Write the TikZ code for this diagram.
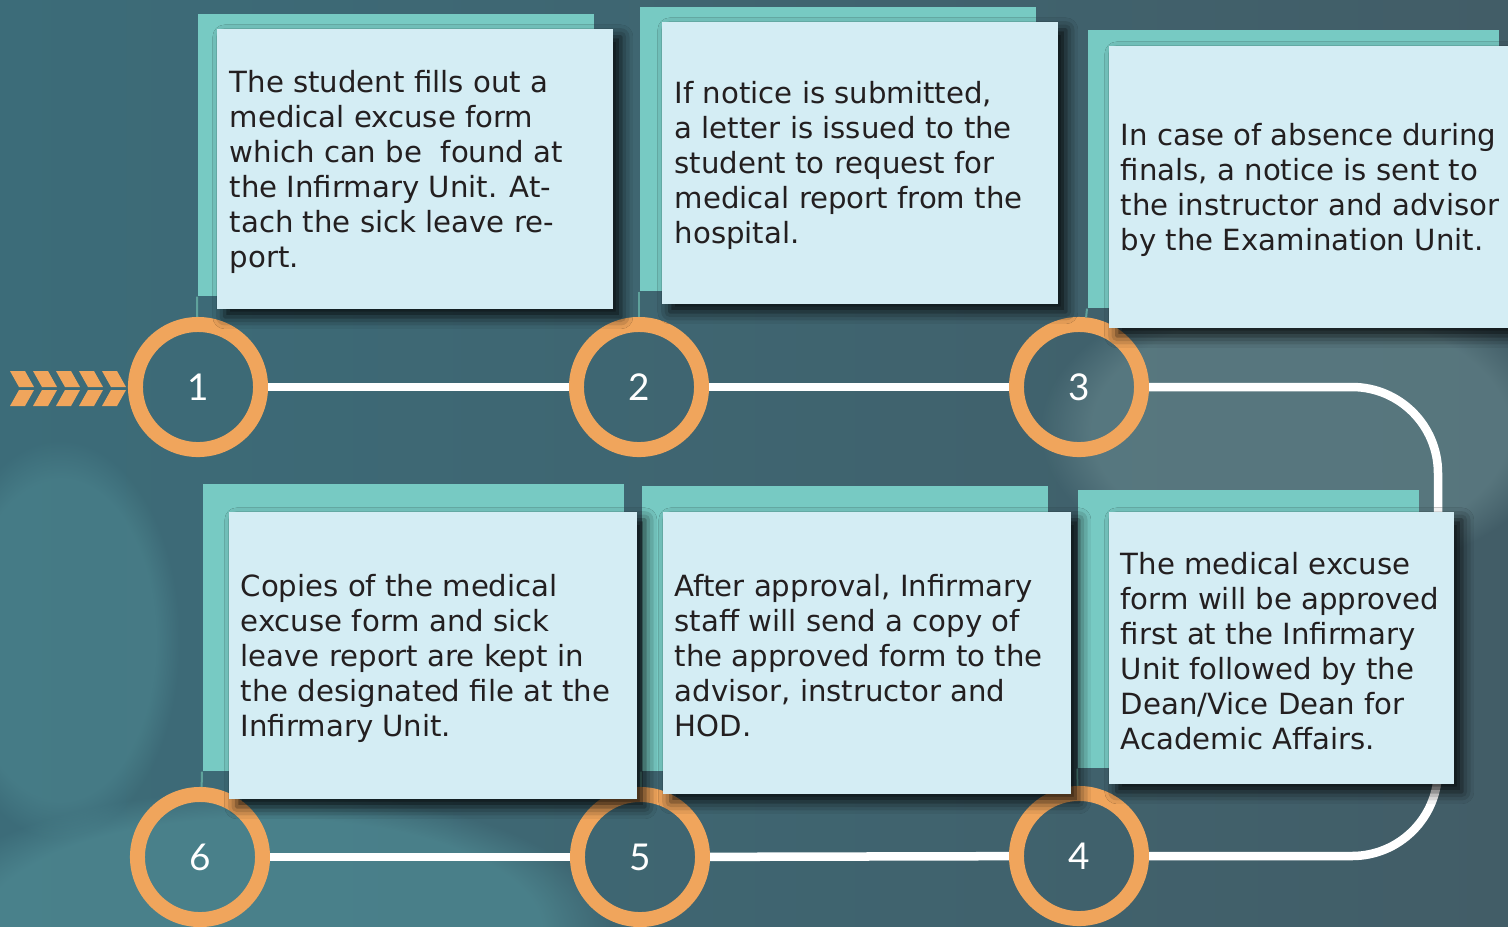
\documentclass[tikz,border=0pt]{standalone}
\usepackage{fontspec}
\setmainfont{DejaVu Sans}
\newfontfamily\numfont{Lato}
\usepackage{tikz}
\usetikzlibrary{positioning,shadows.blur,fadings}
\definecolor{bgleft}{HTML}{3C6C79}
\definecolor{bgright}{HTML}{425D67}
\definecolor{bglite}{HTML}{66868C}
\definecolor{bgteal}{HTML}{4F8A93}
\definecolor{ring}{HTML}{F0A55C}
\definecolor{paper}{HTML}{D4EDF4}
\definecolor{tab}{HTML}{77CAC3}
\definecolor{ink}{HTML}{231F20}

\begin{document}
\begin{tikzpicture}[x=0.01cm,y=-0.01cm,
    every node/.style={font=\fontsize{8.3}{9.96}\selectfont},
    stepring/.style={circle,draw=ring,line width=0.15cm,minimum size=1.25cm,
                     inner sep=0pt,text=white,font=\numfont\fontsize{10.5}{12}\selectfont},
    track/.style={draw=white,line width=0.085cm},
    stem/.style={draw=tab!80!black,line width=0.02cm},
    tabbox/.style={fill=tab,anchor=north west,inner sep=0pt},
    card/.style={fill=paper,anchor=north west,inner sep=0pt,
                 blur shadow={shadow xshift=0.08cm,shadow yshift=-0.08cm,
                              shadow blur radius=0.12cm,shadow opacity=85}},
    note/.style={align=left,text=ink,inner sep=0pt,yshift=-0.03cm},
  ]
  \useasboundingbox (0,0) rectangle (1508,926);
  \clip (0,0) rectangle (1508,926);

  % background
  \shade[left color=bgleft,right color=bgright] (0,0) rectangle (1508,926);
  \fill[bglite,opacity=.6,path fading=circle with fuzzy edge 20 percent]
    (1300,430) ellipse [x radius=2.6cm,y radius=1.5cm];
  \fill[bgteal,opacity=.7,path fading=circle with fuzzy edge 20 percent]
    (260,930) ellipse [x radius=3.5cm,y radius=1.4cm];
  \fill[bgteal,opacity=.5,path fading=circle with fuzzy edge 20 percent]
    (60,640) ellipse [x radius=1.2cm,y radius=2cm];

  % chevrons
  \foreach \i in {0,...,4}{
    \fill[ring] ({10+23*\i},371) -- ++(15,0) -- ++(9,16) -- ++(-15,0) -- cycle;
    \fill[ring] ({19+23*\i},390) -- ++(15,0) -- ++(-9,16) -- ++(-15,0) -- cycle;
  }

  % steps
  \node[stepring] (c1) at (198,387) {1};
  \node[stepring] (c2) at (639,387) {2};
  \node[stepring] (c3) at (1079,387) {3};
  \node[stepring] (c4) at (1079,856) {4};
  \node[stepring] (c5) at (640,857) {5};
  \node[stepring] (c6) at (200,857) {6};

  \coordinate (turnA) at (1438,387);
  \coordinate (turnB) at (1438,856);
  \draw[track] (c1) -- (c2);
  \draw[track] (c2) -- (c3);
  \draw[track,rounded corners=0.86cm] (c3) -- (turnA) -- (turnB) -- (c4);
  \draw[track] (c4) -- (c5);
  \draw[track] (c5) -- (c6);

  % tabs behind the cards
  \node[tabbox,minimum width=3.96cm,minimum height=2.82cm] (b1) at (197,13) {};
  \node[tabbox,minimum width=3.96cm,minimum height=2.84cm] (b2) at (639,6) {};
  \node[tabbox,minimum width=4.11cm,minimum height=2.78cm] (b3) at (1087,29) {};
  \node[tabbox,minimum width=3.41cm,minimum height=2.78cm] (b4) at (1077,489) {};
  \node[tabbox,minimum width=4.06cm,minimum height=2.85cm] (b5) at (641,485) {};
  \node[tabbox,minimum width=4.21cm,minimum height=2.87cm] (b6) at (202,483) {};
  \foreach \k in {1,...,6}
    \draw[stem] (b\k.south west) -- (c\k);

  % cards
  \node[card,minimum width=3.96cm,minimum height=2.80cm] (f1) at (216,28) {};
  \node[card,minimum width=3.96cm,minimum height=2.82cm] (f2) at (661,21) {};
  \node[card,minimum width=4.20cm,minimum height=2.82cm] (f3) at (1108,45) {};
  \node[card,minimum width=3.45cm,minimum height=2.72cm] (f4) at (1108,511) {};
  \node[card,minimum width=4.08cm,minimum height=2.82cm] (f5) at (662,511) {};
  \node[card,minimum width=4.08cm,minimum height=2.87cm] (f6) at (228,511) {};

  \node[note,right=0.13cm of f1.west] (t1) {The student fills out a\\medical excuse form\\which can be\ \ found at\\the Infirmary Unit. At-\\tach the sick leave re-\\port.};
  \node[note,right=0.13cm of f2.west] (t2) {If notice is submitted,\\a letter is issued to the\\student to request for\\medical report from the\\hospital.};
  \node[note,right=0.12cm of f3.west] (t3) {In case of absence during\\finals, a notice is sent to\\the instructor and advisor\\by the Examination Unit.};
  \node[note,right=0.12cm of f4.west] (t4) {The medical excuse\\form will be approved\\first at the Infirmary\\Unit followed by the\\Dean/Vice Dean for\\Academic Affairs.};
  \node[note,right=0.12cm of f5.west] (t5) {After approval, Infirmary\\staff will send a copy of\\the approved form to the\\advisor, instructor and\\HOD.};
  \node[note,right=0.12cm of f6.west] (t6) {Copies of the medical\\excuse form and sick\\leave report are kept in\\the designated file at the\\Infirmary Unit.};
\end{tikzpicture}
\end{document}
